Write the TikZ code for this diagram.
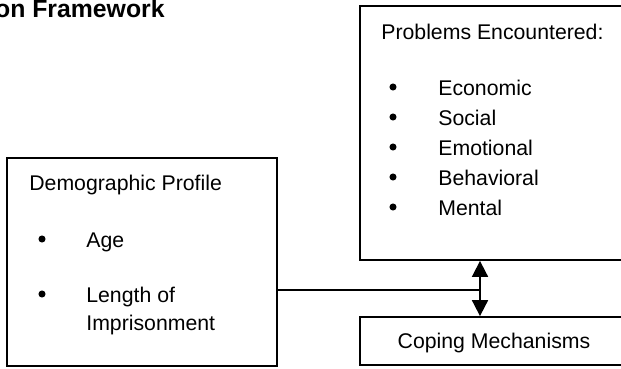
\documentclass[tikz,border=0pt]{standalone}
\usepackage{fontspec}
\setmainfont{Liberation Sans}
\usetikzlibrary{arrows.meta,positioning,calc}

\begin{document}
\begin{tikzpicture}[x=0.5645pt,y=-0.5645pt,
      box/.style={draw,line width=1pt,inner sep=0pt},
      txt/.style={inner sep=0pt,anchor=base west,font=\fontsize{12}{14}\selectfont},
      blt/.style={circle,fill,inner sep=0pt,minimum size=4pt},
      arr/.style={{Triangle[length=9pt,width=9pt]}-{Triangle[length=9pt,width=9pt]},line width=1pt}]
    \useasboundingbox (0,0) rectangle (621,368);
    \node[inner sep=0pt,anchor=base east,font=\fontsize{14}{16}\selectfont\bfseries] (title) at (165,17) {on Framework};
    % boxes
    \node[box,minimum width=151.3pt,minimum height=143.4pt] (prob) at (494,133) {};
    \node[box,minimum width=152.4pt,minimum height=117.4pt] (demo) at (142,262) {};
    \node[box,minimum width=151.3pt,minimum height=27.1pt] (cope) at (494,341) {};
    % texts
    \node[txt] (probhead) at (381,39) {Problems Encountered:};
    \foreach \name/\lbl/\yb in {econ/Economic/95,soc/Social/125,emo/Emotional/155,beh/Behavioral/185,ment/Mental/215}{
      \node[blt] (\name b) at (393,\yb-8) {};
      \node[txt] (\name) at (438,\yb) {\lbl};
    }
    \node[txt] (demohead) at (29,190) {Demographic Profile};
    \node[blt] (ageb) at (42,239) {};
    \node[txt] (age) at (86,247) {Age};
    \node[blt] (lenb) at (42,294) {};
    \node[txt] (len) at (86,302) {Length of};
    \node[txt] (imp) at (86,330) {Imprisonment};
    \node[inner sep=0pt,anchor=base,font=\fontsize{12}{14}\selectfont] (copetxt) at (494,348) {Coping Mechanisms};
    % connectors
    \coordinate (jn) at (480,290);
    \draw[line width=1pt] (demo.east |- jn) -- (jn);
    \draw[arr] (prob.south -| jn) -- (cope.north -| jn);
  \end{tikzpicture}
\end{document}
